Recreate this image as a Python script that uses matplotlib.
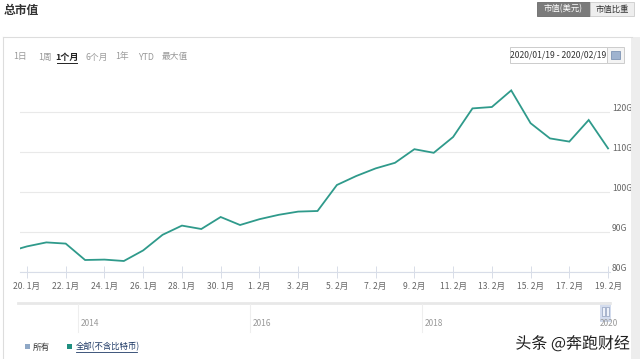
import matplotlib
matplotlib.use("Agg")
import matplotlib.pyplot as plt
import matplotlib.patheffects as pe
from matplotlib.patches import Rectangle
from matplotlib.lines import Line2D
from matplotlib.transforms import ScaledTranslation

plt.rcParams['font.family'] = ['Noto Sans CJK SC', 'DejaVu Sans']

W, H = 640, 359

# day offset from 20 Jan 2020, market cap in billions USD
days = list(range(-1, 31))
market_cap = [85.0, 86.4, 87.4, 87.1, 83.0, 83.1, 82.75, 85.4, 89.3, 91.6,
              90.75, 93.75, 91.75, 93.2, 94.3, 95.1, 95.25, 101.75, 104.0, 105.9,
              107.3, 110.7, 109.8, 113.75, 120.9, 121.25, 125.4, 117.2, 113.4, 112.6,
              118.0, 110.9]

tick_days = list(range(0, 31, 2))
tick_labels = ["20. 1月", "22. 1月", "24. 1月", "26. 1月", "28. 1月", "30. 1月",
               "1. 2月", "3. 2月", "5. 2月", "7. 2月", "9. 2月", "11. 2月",
               "13. 2月", "15. 2月", "17. 2月", "19. 2月"]
y_ticks = [80, 90, 100, 110, 120]
y_labels = ["80G", "90G", "100G", "110G", "120G"]

range_buttons = ["1日", "1周", "1个月", "6个月", "1年", "YTD", "最大值"]
range_x = [20, 45, 67, 97, 122, 146, 175]
years = ["2014", "2016", "2018", "2020"]
years_x = [90, 262, 434, 609]


def fx(x):
    return x / W


def fy(y):
    return 1 - y / H


fig = plt.figure(figsize=(6.4, 3.59), dpi=100)
fig.patch.set_facecolor("white")


def rect(x0, y0, x1, y1, **kw):
    fig.add_artist(Rectangle((fx(x0), fy(y1)), fx(x1) - fx(x0), fy(y0) - fy(y1),
                             transform=fig.transFigure, **kw))


def hline(x0, x1, y, **kw):
    fig.add_artist(Line2D([fx(x0), fx(x1)], [fy(y), fy(y)], transform=fig.transFigure, **kw))


def vline(x, y0, y1, **kw):
    fig.add_artist(Line2D([fx(x), fx(x)], [fy(y0), fy(y1)], transform=fig.transFigure, **kw))


# header
fig.text(fx(4), fy(10), "总市值", fontsize=8.5, fontweight="bold", color="#333333",
         ha="left", va="center")
rect(537, 2, 590, 16, facecolor="#7b7b7b", edgecolor="#6a6a6a", lw=0.6)
fig.text(fx(563), fy(9), "市值(美元)", fontsize=6, color="white", ha="center", va="center")
rect(590, 2, 634, 16, facecolor="#eeeeee", edgecolor="#cccccc", lw=0.6)
fig.text(fx(612), fy(9), "市值比重", fontsize=6, color="#333333", ha="center", va="center")

# panel frame and scrollbar strip
hline(3, 632, 37, color="#dddddd", lw=0.8)
vline(3, 37, 359, color="#dddddd", lw=0.8)
rect(631, 37, 640, 359, facecolor="#ededed", edgecolor="none")

# range selector
for lab, xx in zip(range_buttons, range_x):
    if lab == "1个月":
        fig.text(fx(xx), fy(57), lab, fontsize=6.5, color="#222222", fontweight="bold",
                 ha="center", va="center")
        hline(xx - 10, xx + 10, 63, color="#222222", lw=0.7)
    else:
        fig.text(fx(xx), fy(57), lab, fontsize=6.3, color="#999999", ha="center", va="center")

# date box
rect(510, 47, 607, 63, facecolor="white", edgecolor="#cccccc", lw=0.7)
fig.text(fx(558), fy(55), "2020/01/19 - 2020/02/19", fontsize=6.2, color="#333333",
         ha="center", va="center")
rect(607, 47, 624, 63, facecolor="#f4f4f4", edgecolor="#cccccc", lw=0.7)
rect(611, 51, 620, 59, facecolor="#9fb3cf", edgecolor="#6f87ab", lw=0.5)

# main chart
left, right, top, bottom = 20, 610, 75, 272
ax = fig.add_axes([fx(left), fy(bottom), fx(right) - fx(left), fy(top) - fy(bottom)])
ax.plot(days, market_cap, color="#2f9a8b", lw=1.3, solid_joinstyle="miter")
ax.set_xlim(-0.36, 30.1)
ax.set_ylim(80, 129.25)
ax.set_yticks(y_ticks)
ax.yaxis.grid(True, color="#e9e9e9", lw=0.8)
ax.tick_params(axis="y", length=0, labelleft=False)
ax.set_xticks(tick_days)
ax.set_xticklabels(tick_labels, fontsize=6.2, color="#666666")
ax.tick_params(axis="x", direction="inout", length=8, width=0.7, color="#d8dde8", pad=3)
for s in ["top", "left", "right"]:
    ax.spines[s].set_visible(False)
ax.spines["bottom"].set_color("#d8dde8")
ax.spines["bottom"].set_linewidth(0.8)
ax.set_axisbelow(True)

off = ScaledTranslation(2 / 100, 4 / 100, fig.dpi_scale_trans)
for v, lab in zip(y_ticks, y_labels):
    ax.text(1.0, v, lab, transform=ax.get_yaxis_transform() + off, fontsize=6.2,
            color="#666666", ha="left", va="center")

# navigator
hline(18, 610, 303, color="#e8e8e8", lw=2.0)
for xx in years_x[:-1]:
    vline(xx - 12, 304, 332, color="#eeeeee", lw=0.8)
for lab, xx in zip(years, years_x):
    fig.text(fx(xx), fy(324), lab, fontsize=6, color="#999999", ha="center", va="center")
rect(600, 302, 611, 322, facecolor="#c9d4ea", edgecolor="none", alpha=0.8)
rect(602, 307, 605, 316, facecolor="#eef2fa", edgecolor="#8090b0", lw=0.4)
rect(606, 307, 609, 316, facecolor="#eef2fa", edgecolor="#8090b0", lw=0.4)

# legend
rect(25, 344, 30, 349, facecolor="#8fa8c6", edgecolor="none")
fig.text(fx(33), fy(347), "所有", fontsize=6.2, color="#333333", ha="left", va="center")
rect(67, 344, 72, 349, facecolor="#1f8f80", edgecolor="none")
fig.text(fx(76), fy(347), "全部(不含比特币)", fontsize=6.0, color="#1f3a66", ha="left", va="center")
hline(76, 137, 352, color="#1f3a66", lw=0.6)

# watermark
fig.text(fx(630), fy(344), "头条 @奔跑财经", fontsize=11.5, fontweight="medium", color="#1e1e1e",
         ha="right", va="center",
         path_effects=[pe.withStroke(linewidth=2, foreground="white")])

fig.savefig("out.png", dpi=100)
